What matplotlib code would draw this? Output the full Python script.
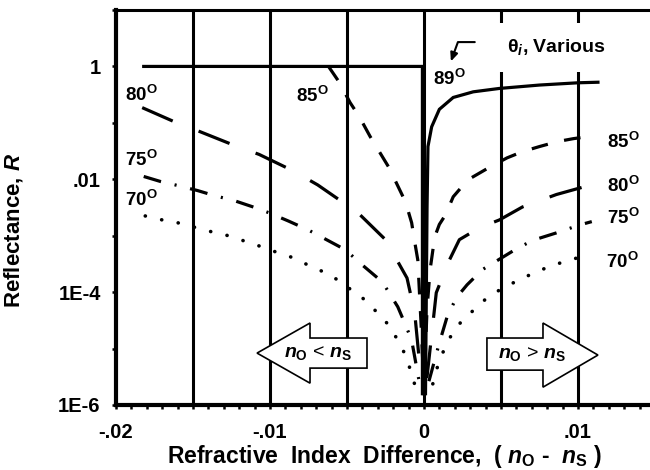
import numpy as np
import matplotlib
matplotlib.use("Agg")
import matplotlib.pyplot as plt
from matplotlib.patches import Polygon

plt.rcParams['font.family'] = ['Liberation Sans', 'DejaVu Sans']
plt.rcParams['mathtext.fontset'] = 'custom'
plt.rcParams['mathtext.rm'] = 'Liberation Sans:bold'
plt.rcParams['mathtext.it'] = 'Liberation Sans:italic:bold'
plt.rcParams['mathtext.bf'] = 'Liberation Sans:bold'
plt.rcParams['lines.scale_dashes'] = False

# ---- data (x = n_o - n_s, log10 of reflectance) ----
x89 = [-0.0182, -0.0001, -0.0001, 0.0001, 0.0002, 0.00026, 0.0005, 0.0010, 0.0019, 0.0032, 0.0049, 0.0075, 0.0100, 0.0113]
lr89 = [0.0, 0.0, -5.8, -5.8, -2.5, -1.42, -1.07, -0.76, -0.55, -0.45, -0.39, -0.33, -0.29, -0.28]

x85 = [-0.0062, -0.0055, -0.0048, -0.0042, -0.0035, -0.0029, -0.0023, -0.0018, -0.0012, -0.0008, -0.0006, -0.0004, -0.0002, 0.0,
       0.0002, 0.0004, 0.0007, 0.0010, 0.0014, 0.0019, 0.0025, 0.0031, 0.0043, 0.0054, 0.0064, 0.0075, 0.0087, 0.0097, 0.0110]
lr85 = [0.0, -0.28, -0.64, -0.89, -1.24, -1.51, -1.78, -2.06, -2.40, -2.77, -3.11, -3.43, -4.5, -5.7,
        -4.3, -3.6, -3.02, -2.80, -2.63, -2.31, -2.12, -1.97, -1.78, -1.62, -1.51, -1.42, -1.33, -1.28, -1.23]

x80 = [-0.0183, -0.0163, -0.0146, -0.0124, -0.0107, -0.0085, -0.0069, -0.0043, -0.0025, -0.0011, -0.0006, -0.0002,
       0.0002, 0.0008, 0.0016, 0.0023, 0.0036, 0.0049, 0.0064, 0.0086, 0.0111]
lr80 = [-0.73, -0.97, -1.15, -1.39, -1.56, -1.85, -2.10, -2.59, -3.07, -3.75, -4.37, -5.5,
        -5.5, -4.01, -3.46, -3.07, -2.86, -2.72, -2.49, -2.27, -2.08]

x75 = [-0.0182, -0.0171, -0.0160, -0.0147, -0.0136, -0.0123, -0.0111, -0.0101, -0.0088, -0.0075, -0.0051, -0.0040,
       -0.0027, -0.0017, -0.0012, -0.0008, -0.0003, 0.0003, 0.0010, 0.0015, 0.0021, 0.0028, 0.0038, 0.0050, 0.0062,
       0.0072, 0.0086, 0.0101, 0.0109]
lr75 = [-1.95, -2.04, -2.11, -2.20, -2.29, -2.38, -2.49, -2.59, -2.74, -2.90, -3.25, -3.52,
        -3.82, -4.26, -4.58, -4.85, -5.6, -5.6, -4.9, -4.44, -4.10, -3.87, -3.60, -3.40, -3.20,
        -3.07, -2.95, -2.81, -2.75]

x70 = [-0.0181, -0.0170, -0.0160, -0.0138, -0.0127, -0.0116, -0.0105, -0.0095, -0.0085, -0.0073, -0.0061, -0.0040,
       -0.0030, -0.0023, -0.0017, -0.0011, -0.0008, -0.0004, 0.0004, 0.0010, 0.0017, 0.0025, 0.0031, 0.0041,
       0.0051, 0.0062, 0.0073, 0.0084, 0.0095, 0.0106]
lr70 = [-2.65, -2.72, -2.77, -2.93, -3.00, -3.10, -3.20, -3.30, -3.39, -3.55, -3.69, -4.10,
        -4.37, -4.58, -4.85, -5.17, -5.47, -5.8, -5.8, -5.2, -4.8, -4.49, -4.35, -4.10,
        -3.93, -3.78, -3.64, -3.52, -3.43, -3.34]

grid_x = [-0.015, -0.010, -0.005, 0.0, 0.005, 0.010]
xtick_vals = [-0.02, -0.01, 0.0, 0.01]
xtick_labels = ['-.02', '-.01', '0', '.01']
ytick_vals = [1e-6, 1e-4, 1e-2, 1.0]
ytick_labels = ['1E-6', '1E-4', '.01', '1']

# curve labels: (text, x, log10 R)
labels_left = [('80', -0.0194, -0.50), ('75', -0.0194, -1.65), ('70', -0.0194, -2.36),
               ('85', -0.0083, -0.52), ('89', 0.0006, -0.23)]
labels_right = [('85', 0.0119, -1.33), ('80', 0.0119, -2.11), ('75', 0.0119, -2.68), ('70', 0.0118, -3.46)]

fig = plt.figure(figsize=(6.5, 4.7), dpi=100)
ax = fig.add_axes([116/650, 1-405/470, (650-116)/650, (405-10)/470])
ax.set_yscale('log')
ax.set_xlim(-0.02, 0.01468)
ax.set_ylim(1e-6, 10)

for gx in grid_x:
    ax.axvline(gx, color='black', lw=2.2, zorder=1)

def R(v):
    return 10.0 ** np.asarray(v)

lw = 2.3
ax.plot(x89, R(lr89), color='black', lw=lw, solid_joinstyle='miter', zorder=4)
ax.plot(x85, R(lr85), color='black', lw=lw, linestyle=(0, (12, 12)), zorder=4)
ax.plot(x80, R(lr80), color='black', lw=lw, linestyle=(0, (24, 20)), zorder=4)
ax.plot(x75, R(lr75), color='black', lw=lw, linestyle=(0, (13, 10, 1.5, 10)), zorder=4)
ax.plot(x70, R(lr70), color='black', lw=2.6, linestyle=(0, (0.1, 12)), dash_capstyle='round', zorder=4)

# block arrows
left_arrow = [(-0.01084, -5.08), (-0.0074, -4.547), (-0.0074, -4.813), (-0.0037, -4.813),
              (-0.0037, -5.346), (-0.0074, -5.346), (-0.0074, -5.613)]
right_arrow = [(0.00409, -4.813), (0.00773, -4.813), (0.00773, -4.547), (0.0113, -5.115),
               (0.00773, -5.684), (0.00773, -5.382), (0.00409, -5.382)]
for verts in (left_arrow, right_arrow):
    pts = [(vx, 10.0 ** vy) for vx, vy in verts]
    ax.add_patch(Polygon(pts, closed=True, facecolor='white', edgecolor='black', lw=1.2, zorder=3))
ax.text(-0.0069, 10 ** -5.08, r'$n_{\rm O}$ < $n_{\rm S}$', fontsize=14, ha='center', va='center', zorder=5)
ax.text(0.0070, 10 ** -5.10, r'$n_{\rm O}$ > $n_{\rm S}$', fontsize=14, ha='center', va='center', zorder=5)

for t, lx, ly in labels_left + labels_right:
    ax.text(lx, 10 ** ly, t + r'$^{\rm O}$', fontsize=13.5, fontweight='bold', ha='left', va='center', zorder=6)

ax.text(0.0054, 10 ** 0.34, r'θ$_{i}$, Various', fontsize=14, fontweight='bold', ha='left', va='center', zorder=6,
        bbox=dict(boxstyle='square,pad=0.75', facecolor='white', edgecolor='none'))
ax.annotate('', xy=(0.00175, 1.23), xytext=(0.0033, 2.7),
            arrowprops=dict(arrowstyle='-|>,head_length=0.5,head_width=0.22', color='black', lw=1.5,
                            connectionstyle='angle,angleA=0,angleB=70,rad=0', shrinkA=0, shrinkB=0), zorder=6)

# axes styling
ax.spines['right'].set_visible(False)
ax.spines['left'].set_linewidth(3)
ax.spines['bottom'].set_linewidth(3)
ax.spines['top'].set_linewidth(2.2)
ax.set_xticks(xtick_vals)
ax.set_xticklabels(xtick_labels)
ax.set_xticks(np.arange(-0.02, 0.0146, 0.001), minor=True)
ax.set_yticks(ytick_vals)
ax.set_yticklabels(ytick_labels)
ax.set_yticks([1e-5, 1e-3, 1e-1, 10], minor=True)
ax.yaxis.set_minor_formatter(matplotlib.ticker.NullFormatter())
ax.tick_params(axis='both', which='both', direction='out', width=1.8, length=3, top=False, right=False)
ax.tick_params(axis='x', which='major', pad=10, labelsize=14.5)
ax.tick_params(axis='y', which='major', pad=8, labelsize=14.5)
for lab in ax.get_xticklabels() + ax.get_yticklabels():
    lab.set_fontweight('bold')

ax.set_xlabel(r'Refractive  Index  Difference,  ( $n_{\rm O}$ -  $n_{\rm S}$ )', fontsize=16.5, fontweight='bold')
ax.xaxis.label.set_va('center')
ax.xaxis.set_label_coords((384-116)/534, (405-457)/395)
ax.set_ylabel(r'Reflectance, $R$', fontsize=16, fontweight='bold')
ax.yaxis.label.set_va('center')
ax.yaxis.set_label_coords((14-116)/534, (405-230)/395)

fig.savefig('out.png', dpi=100)
